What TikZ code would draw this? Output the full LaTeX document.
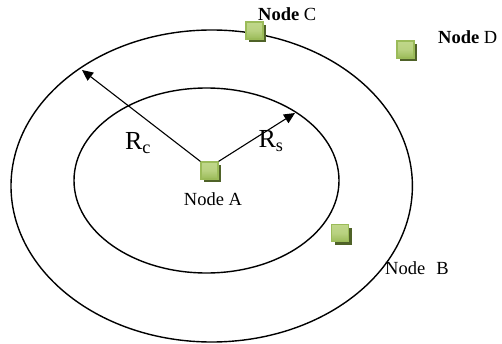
\documentclass[tikz,border=0pt]{standalone}
\usepackage{fontspec}
\setmainfont{Liberation Serif}
\usetikzlibrary{shadows,arrows.meta}
\definecolor{sqgreen}{HTML}{9BBB59}
\definecolor{sqlight}{HTML}{C0D78A}
\definecolor{sqdark}{HTML}{4F6228}
\tikzset{
  sq/.style={rectangle, minimum size=17pt, inner sep=0pt, draw=sqgreen, line width=1.2pt,
    top color=sqlight, bottom color=sqgreen, middle color=sqlight!80!sqgreen,
    drop shadow={shadow xshift=3pt, shadow yshift=-3pt, fill=sqdark, opacity=1}},
  lbl/.style={font=\fontsize{18.5}{21}\selectfont, inner sep=0pt},
  rlbl/.style={font=\fontsize{26}{28}\selectfont, inner sep=0pt},
  ring/.style={line width=1.4pt},
  radius/.style={line width=1.1pt, -{Triangle[length=11pt,width=10pt]}}
}
\begin{document}
\begin{tikzpicture}[x=1pt,y=1pt]
\useasboundingbox (0,0) rectangle (502,343);
\draw[ring] (211.7,157) ellipse [x radius=200.7, y radius=156];
\draw[ring] (206.5,162.5) ellipse [x radius=132.5, y radius=92.5];
\node[sq] (A) at (209.5,172.5) {};
\node[sq] (B) at (340,110) {};
\node[sq] (C) at (254.5,312.5) {};
\node[sq] (D) at (405.5,293.5) {};
\node[lbl] (la) at (213,144) {Node A};
\node[lbl, anchor=west] (lb) at (385,75) {Node\hspace{0.6em}B};
\node[lbl, anchor=west] (lc) at (258,329) {\textbf{Node} C};
\node[lbl, anchor=west] (ld) at (438,306) {\textbf{Node} D};
\coordinate (rc) at (82,273);
\coordinate (rs) at (295,230);
\draw[radius] (A.north west) -- (rc);
\draw[radius] (A.north east) -- (rs);
\node[rlbl] (lrc) at (138,200) {R\textsubscript{c}};
\node[rlbl] (lrs) at (271,202) {R\textsubscript{s}};
\end{tikzpicture}
\end{document}
